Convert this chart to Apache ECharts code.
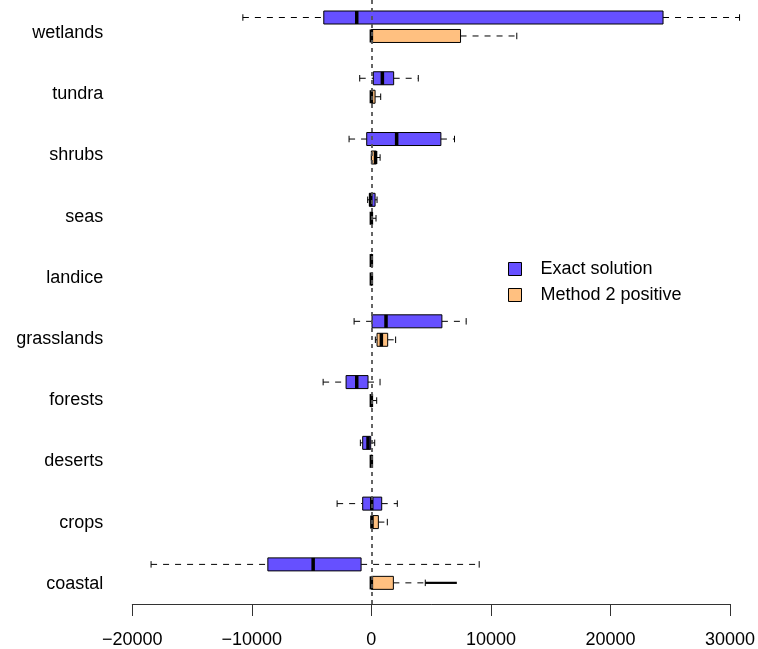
<!DOCTYPE html>
<html><head><meta charset="utf-8">
<script src="https://cdn.jsdelivr.net/npm/echarts@6/dist/echarts.min.js"></script>
<style>html,body{margin:0;padding:0;background:#fff}#c{width:758px;height:649px}</style>
</head><body><div id="c"></div>
<script>
// ---- data ----
const categories = ['wetlands','tundra','shrubs','seas','landice','grasslands','forests','deserts','crops','coastal'];
// [min, Q1, median, Q3, max]
const exactStats = [
  [-10750, -3980, -1225, 24400, 30800],
  [-975, 165, 920, 1865, 3925],
  [-1865, -390, 2115, 5815, 6955],
  [-310, -170, -50, 310, 475],
  [-30, -20, 0, 20, 30],
  [-1445, 55, 1225, 5900, 7930],
  [-4035, -2115, -1225, -280, 725],
  [-920, -725, -280, -55, 280],
  [-2865, -725, 30, 865, 2170],
  [-18430, -8660, -4870, -860, 9020]
];
const method2Stats = [
  [0, 0, 0, 7460, 12165],
  [0, 0, 0, 310, 780],
  [0, 0, 350, 420, 730],
  [0, 0, 0, 50, 390],
  [0, 0, 0, 0, 0],
  [335, 475, 835, 1365, 2030],
  [0, 0, 0, 40, 445],
  [0, 0, 0, 0, 0],
  [0, 0, 50, 585, 1335],
  [0, 0, 0, 1840, 4510]
];
// outlier spans: [category index, from, to]
const method2Outliers = [[9, 4510, 7150]];
const xTicks = [-20000, -10000, 0, 10000, 20000, 30000];
const seriesNames = ['Exact solution', 'Method 2 positive'];
const colors = ['#6650FF', '#FFC080'];

// ---- chart ----
const FONT = '"Liberation Sans", Arial, Helvetica, sans-serif';
const chart = echarts.init(document.getElementById('c'));

function boxRenderer(offset, color) {
  return function (params, api) {
    const y = api.value(0) + offset;
    const pMin = api.coord([api.value(1), y]);
    const pQ1 = api.coord([api.value(2), y]);
    const pMed = api.coord([api.value(3), y]);
    const pQ3 = api.coord([api.value(4), y]);
    const pMax = api.coord([api.value(5), y]);
    const h = 13, cap = 6.5, cy = pMed[1];
    const dash = { stroke: '#000', lineWidth: 1, lineDash: [6, 6] };
    const solid = { stroke: '#000', lineWidth: 1 };
    const ch = [];
    if (pQ1[0] - pMin[0] > 0.5) {
      ch.push({ type: 'line', shape: { x1: pMin[0], y1: cy, x2: pQ1[0], y2: cy }, style: dash });
    }
    ch.push({ type: 'line', shape: { x1: pMin[0], y1: cy - cap / 2, x2: pMin[0], y2: cy + cap / 2 }, style: solid });
    if (pMax[0] - pQ3[0] > 0.5) {
      ch.push({ type: 'line', shape: { x1: pQ3[0], y1: cy, x2: pMax[0], y2: cy }, style: dash });
    }
    ch.push({ type: 'line', shape: { x1: pMax[0], y1: cy - cap / 2, x2: pMax[0], y2: cy + cap / 2 }, style: solid });
    ch.push({ type: 'rect', shape: { x: pQ1[0], y: cy - h / 2, width: pQ3[0] - pQ1[0], height: h },
      style: { fill: color, stroke: '#000', lineWidth: 1 } });
    ch.push({ type: 'line', shape: { x1: pMed[0], y1: cy - h / 2, x2: pMed[0], y2: cy + h / 2 },
      style: { stroke: '#000', lineWidth: 3.5 } });
    return { type: 'group', children: ch };
  };
}

function outlierRenderer(offset) {
  return function (params, api) {
    const y = api.value(0) + offset;
    const a = api.coord([api.value(1), y]);
    const b = api.coord([api.value(2), y]);
    return { type: 'line', shape: { x1: a[0], y1: a[1], x2: b[0], y2: b[1] },
      style: { stroke: '#000', lineWidth: 2.2 } };
  };
}

const OFF = 0.152;
const option = {
  animation: false,
  backgroundColor: '#fff',
  textStyle: { fontFamily: FONT },
  grid: [
    { left: 132.3, right: 27, top: 0, bottom: 42.2 },
    { left: 132.3, right: 27, top: 2.4, bottom: 34.6 }
  ],
  xAxis: [
    {
      type: 'value', gridIndex: 0, position: 'bottom',
      min: xTicks[0], max: xTicks[xTicks.length - 1], interval: xTicks[1] - xTicks[0],
      splitLine: { show: false },
      axisLine: { show: true, onZero: false, lineStyle: { color: '#333', width: 1 } },
      axisTick: { show: true, length: 12, lineStyle: { color: '#333', width: 1 } },
      axisLabel: { fontSize: 18, color: '#000', fontFamily: FONT, margin: 27,
        formatter: v => String(v).replace('-', '\u2212') }
    },
    { type: 'value', gridIndex: 1, show: false, min: 0, max: 1 }
  ],
  yAxis: [
    { type: 'value', gridIndex: 0, min: -0.44, max: 9.5, inverse: true, show: false },
    {
      type: 'category', gridIndex: 1, data: categories, inverse: true,
      axisLine: { show: false }, axisTick: { show: false }, splitLine: { show: false },
      axisLabel: { fontSize: 18, color: '#000', fontFamily: FONT, margin: 29 }
    }
  ],
  legend: {
    orient: 'vertical', left: 508, top: 259, padding: 0,
    itemWidth: 13, itemHeight: 13, itemGap: 6,
    textStyle: { fontSize: 18, color: '#000', fontFamily: FONT, lineHeight: 20, padding: [0, 0, 0, 14] },
    data: seriesNames.map((n, k) => ({ name: n, icon: 'rect',
      itemStyle: { color: colors[k], borderColor: '#000', borderWidth: 1 } }))
  },
  series: [
    {
      name: seriesNames[0], type: 'custom', xAxisIndex: 0, yAxisIndex: 0, clip: false,
      itemStyle: { color: colors[0] },
      renderItem: boxRenderer(-OFF, colors[0]),
      encode: { x: [1, 2, 3, 4, 5], y: 0 },
      data: exactStats.map((s, i) => [i].concat(s)), z: 2
    },
    {
      name: seriesNames[1], type: 'custom', xAxisIndex: 0, yAxisIndex: 0, clip: false,
      itemStyle: { color: colors[1] },
      renderItem: boxRenderer(OFF, colors[1]),
      encode: { x: [1, 2, 3, 4, 5], y: 0 },
      data: method2Stats.map((s, i) => [i].concat(s)), z: 2
    },
    {
      name: 'outliers', type: 'custom', xAxisIndex: 0, yAxisIndex: 0, clip: false,
      renderItem: outlierRenderer(OFF),
      encode: { x: [1, 2], y: 0 },
      data: method2Outliers, z: 2
    },
    {
      name: 'zero', type: 'line', xAxisIndex: 0, yAxisIndex: 0, data: [], z: 5,
      markLine: {
        silent: true, symbol: 'none', label: { show: false },
        lineStyle: { color: '#555', width: 1.8, type: [4, 4] },
        data: [{ xAxis: 0 }]
      }
    }
  ]
};
chart.setOption(option);
</script>
</body></html>
